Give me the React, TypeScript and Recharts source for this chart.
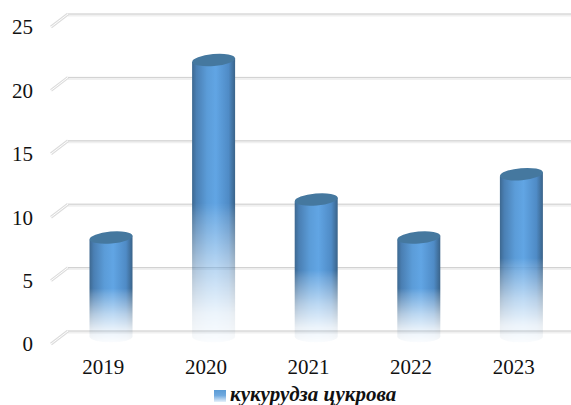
import React from 'react'
import { BarChart, Bar, XAxis, YAxis, CartesianGrid, Legend } from 'recharts'

const years = ['2019', '2020', '2021', '2022', '2023']
const harvest = [8, 22, 11, 8, 13]
const valueTicks = [0, 5, 10, 15, 20, 25]
const seriesName = 'кукурудза цукрова'

const chartData = years.map((year, i) => ({ year, harvest: harvest[i] }))

const SERIF = '"Liberation Serif", serif'

// depth of the fake 3D floor, in pixels
const DEPTH_X = 16
const DEPTH_Y = 13

function Cylinder({ x, y, width, height }: any) {
  const left = x + DEPTH_X / 2 - 0.5
  const top = y - DEPTH_Y / 2 + 1.5
  const rx = width / 2
  const ry = 6
  const right = left + width
  const bottom = top + height - 2.5
  const body = `M${left},${top + 2} L${left},${bottom} A${rx},${ry} 0 0 0 ${right},${bottom} L${right},${top - 2} Z`
  return (
    <g mask="url(#fadeOut)">
      <path d={body} fill="url(#cylinderSide)" />
      <ellipse
        cx={left + rx}
        cy={top}
        rx={rx}
        ry={ry}
        fill="#45789f"
        transform={`rotate(-5 ${left + rx} ${top})`}
      />
    </g>
  )
}

function FloorLine({ x1, y1, x2 }: any) {
  const backY = y1 - DEPTH_Y
  const backX = x1 + DEPTH_X
  return (
    <g>
      <line x1={backX} y1={backY + 1} x2={x2 + DEPTH_X} y2={backY + 1} stroke="#f0f0f0" strokeWidth={3} />
      <line x1={backX} y1={backY} x2={x2 + DEPTH_X} y2={backY} stroke="#cfcfcf" strokeWidth={1} />
      <line x1={x1 - 1} y1={y1} x2={backX} y2={backY} stroke="#dcdcdc" strokeWidth={3} />
      <line x1={x1 - 1} y1={y1} x2={backX} y2={backY} stroke="#ffffff" strokeWidth={1} />
    </g>
  )
}

function SeriesKey() {
  return (
    <div style={{ position: 'relative', width: 571, height: 20 }}>
      <div
        style={{
          position: 'absolute',
          left: 214,
          top: 7,
          width: 12,
          height: 12,
          background: 'linear-gradient(to bottom, #5b9bd5 0%, #6fa9df 45%, #e6f0fa 100%)',
        }}
      />
      <span
        style={{
          position: 'absolute',
          left: 230,
          top: 0,
          fontFamily: SERIF,
          fontSize: 21,
          fontWeight: 'bold',
          fontStyle: 'italic',
          lineHeight: '22px',
          color: '#111',
          whiteSpace: 'nowrap',
        }}
      >
        {seriesName}
      </span>
    </div>
  )
}

export default function App() {
  return (
    <div style={{ position: 'absolute', left: 0, top: 0, width: 571, height: 405, overflow: 'hidden', background: '#fff' }}>
      <BarChart
        width={571}
        height={405}
        data={chartData}
        margin={{ top: 27, right: 6, bottom: 0, left: 0 }}
        barCategoryGap={30}
      >
        <defs>
          <linearGradient id="cylinderSide" x1="0" y1="0" x2="1" y2="0">
            <stop offset="0" stopColor="#3d6890" />
            <stop offset="0.1" stopColor="#4a7fb3" />
            <stop offset="0.35" stopColor="#5b9cd8" />
            <stop offset="0.55" stopColor="#61a5e4" />
            <stop offset="0.85" stopColor="#4f8bc6" />
            <stop offset="1" stopColor="#3a6389" />
          </linearGradient>
          <linearGradient id="fadeStops" x1="0" y1="0" x2="0" y2="1">
            <stop offset="0" stopColor="#fff" stopOpacity={1} />
            <stop offset="0.52" stopColor="#fff" stopOpacity={1} />
            <stop offset="0.57" stopColor="#fff" stopOpacity={0.85} />
            <stop offset="0.75" stopColor="#fff" stopOpacity={0.42} />
            <stop offset="0.9" stopColor="#fff" stopOpacity={0.12} />
            <stop offset="1" stopColor="#fff" stopOpacity={0.03} />
          </linearGradient>
          <mask id="fadeOut" maskContentUnits="objectBoundingBox" x="-0.1" y="-0.1" width="1.2" height="1.2" style={{ maskType: 'alpha' }}>
            <rect x="-0.1" y="0" width="1.2" height="1" fill="url(#fadeStops)" />
          </mask>
        </defs>
        <CartesianGrid vertical={false} horizontal={(props: any) => <FloorLine key={props.key} {...props} />} />
        <XAxis
          dataKey="year"
          height={39}
          axisLine={false}
          tickLine={false}
          tickMargin={9}
          tick={{ fontFamily: SERIF, fontSize: 21, fill: '#111' }}
        />
        <YAxis
          width={52}
          domain={[0, 25]}
          ticks={valueTicks}
          axisLine={false}
          tickLine={false}
          tickMargin={13}
          tick={{ fontFamily: SERIF, fontSize: 21, fill: '#111' }}
        />
        <Bar dataKey="harvest" name={seriesName} shape={Cylinder} isAnimationActive={false} />
        <Legend verticalAlign="bottom" height={22} content={SeriesKey} />
      </BarChart>
    </div>
  )
}
